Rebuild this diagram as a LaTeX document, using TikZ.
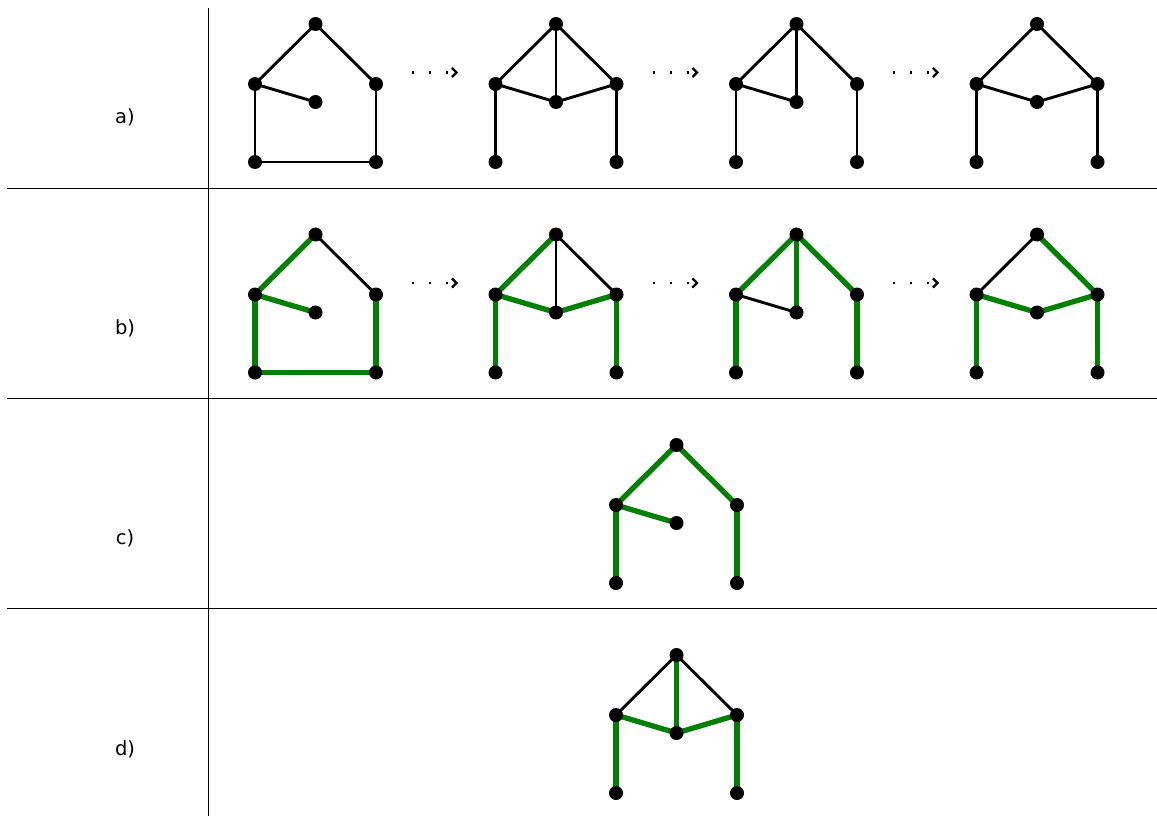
\documentclass[tikz,border=0pt]{standalone}
\usepackage{fontspec}
\setmainfont{DejaVu Sans}
\usetikzlibrary{backgrounds,arrows.meta}
\definecolor{gr}{RGB}{0,128,0}
\newcommand\house[3]{%
  \node[dot] (#1T)  at (315.5+#2, 24+#3) {};
  \node[dot] (#1L)  at (255+#2, 84+#3) {};
  \node[dot] (#1R)  at (376+#2, 84+#3) {};
  \node[dot] (#1M)  at (315.5+#2, 102+#3) {};
  \node[dot] (#1BL) at (255+#2, 162+#3) {};
  \node[dot] (#1BR) at (376+#2, 162+#3) {};
}
\newcommand\hedge[3]{\draw[#1] (#2.center) -- (#3.center);}
\newcommand\darrow[3]{%
  \coordinate (#1s) at (412+#2, 72.5+#3);
  \coordinate (#1e) at (458+#2, 72.5+#3);
  \draw[dots] (#1s) -- (#1e);
}
\begin{document}
\begin{tikzpicture}[x=1pt,y=-1pt,
  dot/.style={circle,fill=black,inner sep=0pt,minimum size=14pt},
  bk/.style={line width=2.9pt,black},
  ge/.style={line width=5.3pt,gr},
  sepline/.style={line width=1pt},
  lab/.style={font=\fontsize{19.5}{23}\selectfont},
  dots/.style={line width=2.2pt,dash pattern=on 2.2pt off 14.8pt,
    -{Straight Barb[length=4.5pt,width=9pt,line width=2.2pt]}}]
\useasboundingbox (0,0) rectangle (1157,816);
% separators
\draw[sepline] (7,188) -- (1157,188);
\draw[sepline] (7,398) -- (1157,398);
\draw[sepline] (7,608) -- (1157,608);
\draw[sepline] (208,8) -- (208,816);
% labels
\node[lab] (la) at (125,117) {a)};
\node[lab] (lb) at (125,328) {b)};
\node[lab] (lc) at (125,538) {c)};
\node[lab] (ld) at (125,749) {d)};
% nodes
\house{aA}{0}{0}
\house{aB}{240.5}{0}
\house{aC}{481}{0}
\house{aD}{721.5}{0}
\house{bA}{0}{210.5}
\house{bB}{240.5}{210.5}
\house{bC}{481}{210.5}
\house{bD}{721.5}{210.5}
\house{c}{361}{421}
\house{d}{361}{631}
% arrows
\darrow{ra1}{0}{0}
\darrow{ra2}{240.5}{0}
\darrow{ra3}{481}{0}
\darrow{rb1}{0}{210.5}
\darrow{rb2}{240.5}{210.5}
\darrow{rb3}{481}{210.5}
\begin{scope}[on background layer]
% row a
\hedge{bk}{aAT}{aAL}\hedge{bk}{aAT}{aAR}\hedge{bk}{aAL}{aAM}
\hedge{bk}{aAL}{aABL}\hedge{bk}{aAR}{aABR}\hedge{bk}{aABL}{aABR}
\hedge{bk}{aBT}{aBL}\hedge{bk}{aBT}{aBR}\hedge{bk}{aBT}{aBM}\hedge{bk}{aBL}{aBM}
\hedge{bk}{aBM}{aBR}\hedge{bk}{aBL}{aBBL}\hedge{bk}{aBR}{aBBR}
\hedge{bk}{aCT}{aCL}\hedge{bk}{aCT}{aCR}\hedge{bk}{aCT}{aCM}\hedge{bk}{aCL}{aCM}
\hedge{bk}{aCL}{aCBL}\hedge{bk}{aCR}{aCBR}
\hedge{bk}{aDT}{aDL}\hedge{bk}{aDT}{aDR}\hedge{bk}{aDL}{aDM}\hedge{bk}{aDM}{aDR}
\hedge{bk}{aDL}{aDBL}\hedge{bk}{aDR}{aDBR}
% row b
\hedge{bk}{bAT}{bAR}
\hedge{ge}{bAT}{bAL}\hedge{ge}{bAL}{bAM}\hedge{ge}{bAL}{bABL}\hedge{ge}{bAR}{bABR}\hedge{ge}{bABL}{bABR}
\hedge{bk}{bBT}{bBR}\hedge{bk}{bBT}{bBM}
\hedge{ge}{bBT}{bBL}\hedge{ge}{bBL}{bBM}\hedge{ge}{bBM}{bBR}\hedge{ge}{bBL}{bBBL}\hedge{ge}{bBR}{bBBR}
\hedge{bk}{bCL}{bCM}
\hedge{ge}{bCT}{bCL}\hedge{ge}{bCT}{bCR}\hedge{ge}{bCT}{bCM}\hedge{ge}{bCL}{bCBL}\hedge{ge}{bCR}{bCBR}
\hedge{bk}{bDT}{bDL}
\hedge{ge}{bDT}{bDR}\hedge{ge}{bDL}{bDM}\hedge{ge}{bDM}{bDR}\hedge{ge}{bDL}{bDBL}\hedge{ge}{bDR}{bDBR}
% row c
\hedge{ge}{cT}{cL}\hedge{ge}{cT}{cR}\hedge{ge}{cL}{cM}\hedge{ge}{cL}{cBL}\hedge{ge}{cR}{cBR}
% row d
\hedge{bk}{dT}{dL}\hedge{bk}{dT}{dR}
\hedge{ge}{dT}{dM}\hedge{ge}{dL}{dM}\hedge{ge}{dM}{dR}\hedge{ge}{dL}{dBL}\hedge{ge}{dR}{dBR}
\end{scope}
\end{tikzpicture}
\end{document}
